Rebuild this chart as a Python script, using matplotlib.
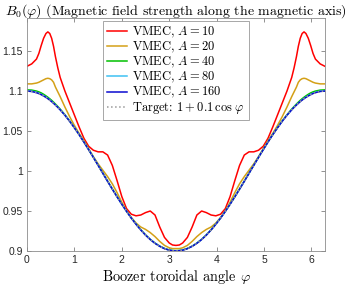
import numpy as np
import matplotlib
matplotlib.use("Agg")
import matplotlib.pyplot as plt

plt.rcParams['mathtext.fontset'] = 'cm'

# left half (0 .. pi), the curves are symmetric about pi
phi_half = [0, 0.1, 0.2, 0.25, 0.3, 0.35, 0.4, 0.44, 0.48, 0.52, 0.56, 0.6, 0.65,
            0.7, 0.8, 0.9, 1.0, 1.1, 1.2, 1.3, 1.4, 1.5, 1.6, 1.7, 1.8, 1.9, 2.0,
            2.1, 2.2, 2.3, 2.4, 2.5, 2.6, 2.7, 2.8, 2.9, 3.0, 3.07, np.pi]

red_half = [1.131, 1.134, 1.140, 1.147, 1.157, 1.166, 1.172, 1.174, 1.172, 1.166,
            1.156, 1.143, 1.129, 1.117, 1.100, 1.085, 1.070, 1.055, 1.041, 1.031,
            1.026, 1.024, 1.024, 1.020, 1.007, 0.988, 0.968, 0.953, 0.946, 0.944,
            0.945, 0.948, 0.950, 0.945, 0.930, 0.917, 0.910, 0.9075, 0.907]
gold_half = [1.109, 1.109, 1.110, 1.111, 1.1125, 1.114, 1.1155, 1.116, 1.1155, 1.114,
             1.111, 1.105, 1.099, 1.093, 1.080, 1.068, 1.057, 1.047, 1.038, 1.028,
             1.018, 1.009, 1.001, 0.993, 0.984, 0.973, 0.961, 0.950, 0.942, 0.935,
             0.930, 0.927, 0.923, 0.918, 0.912, 0.907, 0.904, 0.903, 0.903]
green_half = [1.1015, 1.1012, 1.1000, 1.0990, 1.0977, 1.0960, 1.0940, 1.0923, 1.0904, 1.0884,
              1.0862, 1.0838, 1.0807, 1.0775, 1.0704, 1.0627, 1.0543, 1.0457, 1.0365, 1.0270,
              1.0173, 1.0074, 0.9974, 0.9874, 0.9776, 0.9680, 0.9587, 0.9498, 0.9414, 0.9337,
              0.9266, 0.9202, 0.9146, 0.9099, 0.9061, 0.9032, 0.9013, 0.9006, 0.9004]
cyan_half = [1.1004, 1.0999, 1.0984, 1.0973, 1.0959, 1.0943, 1.0925, 1.0909, 1.0891, 1.0871,
             1.0850, 1.0828, 1.0799, 1.0768, 1.0699, 1.0624, 1.0542, 1.0456, 1.0364, 1.0269,
             1.0172, 1.0073, 0.9973, 0.9873, 0.9775, 0.9679, 0.9586, 0.9497, 0.9413, 0.9336,
             0.9265, 0.9201, 0.9145, 0.9098, 0.9060, 0.9031, 0.9012, 0.9005, 0.9002]
blue_half = [1.1000, 1.0995, 1.0980, 1.0969, 1.0955, 1.0939, 1.0921, 1.0905, 1.0887, 1.0868,
             1.0847, 1.0825, 1.0796, 1.0765, 1.0697, 1.0622, 1.0540, 1.0454, 1.0362, 1.0267,
             1.0170, 1.0071, 0.9971, 0.9871, 0.9773, 0.9677, 0.9584, 0.9495, 0.9411, 0.9334,
             0.9263, 0.9199, 0.9143, 0.9096, 0.9058, 0.9029, 0.9010, 0.9003, 0.9000]
target_half = [1.1000, 1.0995, 1.0980, 1.0969, 1.0955, 1.0939, 1.0921, 1.0905, 1.0887, 1.0868,
               1.0847, 1.0825, 1.0796, 1.0765, 1.0697, 1.0622, 1.0540, 1.0454, 1.0362, 1.0267,
               1.0170, 1.0071, 0.9971, 0.9871, 0.9773, 0.9677, 0.9584, 0.9495, 0.9411, 0.9334,
               0.9263, 0.9199, 0.9143, 0.9096, 0.9058, 0.9029, 0.9010, 0.9003, 0.9000]

labels = ['VMEC, $A=10$', 'VMEC, $A=20$', 'VMEC, $A=40$',
          'VMEC, $A=80$', 'VMEC, $A=160$']
colors = ['#ff0000', '#d4a017', '#00c000', '#3ec1f3', '#0a0ad0']

yticks = [0.9, 0.95, 1.0, 1.05, 1.1, 1.15]
ytick_labels = ['0.9', '0.95', '1', '1.05', '1.1', '1.15']


def full(half):
    # mirror the left half onto pi .. 2pi
    return list(half) + list(half[-2::-1])


phi_half = np.array(phi_half)
phi = np.concatenate([phi_half, 2 * np.pi - phi_half[-2::-1]])

fig = plt.figure(figsize=(3.46, 2.86), dpi=100)
ax = fig.add_axes([0.078, 0.1224, 0.861, 0.8136])

for half, lab, col in zip([red_half, gold_half, green_half, cyan_half, blue_half], labels, colors):
    ax.plot(phi, full(half), color=col, lw=1.1, label=lab)
ax.plot(phi, full(target_half), color='0.6', lw=1.1, ls=':',
        label=r'Target: $1+0.1\,\cos\,\varphi$')

ax.set_xlim(0, 2 * np.pi)
ax.set_ylim(0.9, 1.191)
ax.set_xticks(range(7))
ax.set_yticks(yticks)
ax.set_yticklabels(ytick_labels)
ax.tick_params(direction='in', length=3, width=0.6, top=True, right=True,
               labelsize=7.5, colors='0.5', labelcolor='0.15', pad=3)
for lbl in ax.get_xticklabels() + ax.get_yticklabels():
    lbl.set_family('Liberation Sans')
for s in ax.spines.values():
    s.set_color('0.55')
    s.set_linewidth(0.6)

ax.set_xlabel(r'Boozer toroidal angle $\varphi$', family='cmr10', fontsize=10.3, labelpad=1)
ax.set_title(r'$B_0(\varphi)$ (Magnetic field strength along the magnetic axis)',
             family='cmr10', fontsize=10, pad=3)

leg = ax.legend(loc='upper center', prop={'family': 'cmr10', 'size': 9},
                fancybox=False, framealpha=1, edgecolor='0.6', borderaxespad=0.2,
                handlelength=1.6, handletextpad=0.4, labelspacing=0.0,
                borderpad=0.3)
leg.get_frame().set_linewidth(0.6)

fig.savefig('out.png', dpi=100)
